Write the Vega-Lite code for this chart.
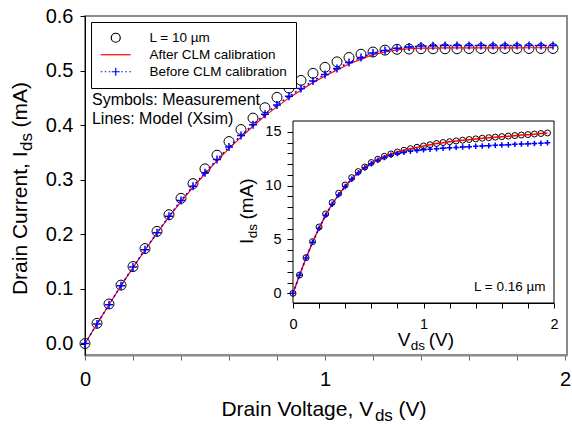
{
 "$schema": "https://vega.github.io/schema/vega-lite/v6.json",
 "width": 482, "height": 339,
 "autosize": "none",
 "padding": {"left": 85, "top": 16, "right": 5, "bottom": 70},
 "config": {
   "view": {"stroke": "#8c8c8c", "strokeWidth": 2},
   "font": "Liberation Sans",
   "axis": {"grid": false, "labelFont": "Liberation Sans", "labelColor": "black", "tickColor": "black", "domainColor": "black", "labelFlush": false, "labelOverlap": false}
 },
 "datasets": {
  "main": [
   {"s":"L = 10 µm","v":0,"i":0},{"s":"L = 10 µm","v":0.05,"i":0.037},{"s":"L = 10 µm","v":0.1,"i":0.0725},{"s":"L = 10 µm","v":0.15,"i":0.107},{"s":"L = 10 µm","v":0.2,"i":0.141},{"s":"L = 10 µm","v":0.25,"i":0.174},{"s":"L = 10 µm","v":0.3,"i":0.2055},{"s":"L = 10 µm","v":0.35,"i":0.236},{"s":"L = 10 µm","v":0.4,"i":0.266},{"s":"L = 10 µm","v":0.45,"i":0.293},
   {"s":"L = 10 µm","v":0.5,"i":0.32},{"s":"L = 10 µm","v":0.55,"i":0.345},{"s":"L = 10 µm","v":0.6,"i":0.37},{"s":"L = 10 µm","v":0.65,"i":0.392},{"s":"L = 10 µm","v":0.7,"i":0.413},{"s":"L = 10 µm","v":0.75,"i":0.432},{"s":"L = 10 µm","v":0.8,"i":0.451},{"s":"L = 10 µm","v":0.85,"i":0.468},{"s":"L = 10 µm","v":0.9,"i":0.482},{"s":"L = 10 µm","v":0.95,"i":0.495},
   {"s":"L = 10 µm","v":1,"i":0.506},{"s":"L = 10 µm","v":1.05,"i":0.516},{"s":"L = 10 µm","v":1.1,"i":0.524},{"s":"L = 10 µm","v":1.15,"i":0.53},{"s":"L = 10 µm","v":1.2,"i":0.534},{"s":"L = 10 µm","v":1.25,"i":0.5375},{"s":"L = 10 µm","v":1.3,"i":0.539},{"s":"L = 10 µm","v":1.35,"i":0.5395},{"s":"L = 10 µm","v":1.4,"i":0.54},{"s":"L = 10 µm","v":1.45,"i":0.54},
   {"s":"L = 10 µm","v":1.5,"i":0.54},{"s":"L = 10 µm","v":1.55,"i":0.54},{"s":"L = 10 µm","v":1.6,"i":0.5405},{"s":"L = 10 µm","v":1.65,"i":0.5405},{"s":"L = 10 µm","v":1.7,"i":0.5405},{"s":"L = 10 µm","v":1.75,"i":0.5405},{"s":"L = 10 µm","v":1.8,"i":0.5405},{"s":"L = 10 µm","v":1.85,"i":0.5405},{"s":"L = 10 µm","v":1.9,"i":0.5405},{"s":"L = 10 µm","v":1.95,"i":0.5405},
   {"s":"After CLM calibration","v":0,"i":0},{"s":"After CLM calibration","v":0.05,"i":0.036},{"s":"After CLM calibration","v":0.1,"i":0.071},{"s":"After CLM calibration","v":0.15,"i":0.106},{"s":"After CLM calibration","v":0.2,"i":0.139},{"s":"After CLM calibration","v":0.25,"i":0.171},{"s":"After CLM calibration","v":0.3,"i":0.202},{"s":"After CLM calibration","v":0.35,"i":0.232},{"s":"After CLM calibration","v":0.4,"i":0.26},{"s":"After CLM calibration","v":0.45,"i":0.286},
   {"s":"After CLM calibration","v":0.5,"i":0.311},{"s":"After CLM calibration","v":0.55,"i":0.335},{"s":"After CLM calibration","v":0.6,"i":0.357},{"s":"After CLM calibration","v":0.65,"i":0.378},{"s":"After CLM calibration","v":0.7,"i":0.398},{"s":"After CLM calibration","v":0.75,"i":0.417},{"s":"After CLM calibration","v":0.8,"i":0.434},{"s":"After CLM calibration","v":0.85,"i":0.45},{"s":"After CLM calibration","v":0.9,"i":0.464},{"s":"After CLM calibration","v":0.95,"i":0.478},
   {"s":"After CLM calibration","v":1,"i":0.49},{"s":"After CLM calibration","v":1.05,"i":0.501},{"s":"After CLM calibration","v":1.1,"i":0.512},{"s":"After CLM calibration","v":1.15,"i":0.521},{"s":"After CLM calibration","v":1.2,"i":0.529},{"s":"After CLM calibration","v":1.25,"i":0.534},{"s":"After CLM calibration","v":1.3,"i":0.538},{"s":"After CLM calibration","v":1.35,"i":0.54},{"s":"After CLM calibration","v":1.4,"i":0.541},{"s":"After CLM calibration","v":1.45,"i":0.5413},
   {"s":"After CLM calibration","v":1.5,"i":0.5415},{"s":"After CLM calibration","v":1.55,"i":0.5415},{"s":"After CLM calibration","v":1.6,"i":0.5415},{"s":"After CLM calibration","v":1.65,"i":0.5416},{"s":"After CLM calibration","v":1.7,"i":0.5416},{"s":"After CLM calibration","v":1.75,"i":0.5417},{"s":"After CLM calibration","v":1.8,"i":0.5417},{"s":"After CLM calibration","v":1.85,"i":0.5418},{"s":"After CLM calibration","v":1.9,"i":0.5418},{"s":"After CLM calibration","v":1.95,"i":0.5419},
   {"s":"Before CLM calibration","v":0,"i":0},{"s":"Before CLM calibration","v":0.05,"i":0.036},{"s":"Before CLM calibration","v":0.1,"i":0.071},{"s":"Before CLM calibration","v":0.15,"i":0.106},{"s":"Before CLM calibration","v":0.2,"i":0.14},{"s":"Before CLM calibration","v":0.25,"i":0.172},{"s":"Before CLM calibration","v":0.3,"i":0.203},{"s":"Before CLM calibration","v":0.35,"i":0.233},{"s":"Before CLM calibration","v":0.4,"i":0.262},{"s":"Before CLM calibration","v":0.45,"i":0.288},
   {"s":"Before CLM calibration","v":0.5,"i":0.313},{"s":"Before CLM calibration","v":0.55,"i":0.337},{"s":"Before CLM calibration","v":0.6,"i":0.36},{"s":"Before CLM calibration","v":0.65,"i":0.381},{"s":"Before CLM calibration","v":0.7,"i":0.401},{"s":"Before CLM calibration","v":0.75,"i":0.42},{"s":"Before CLM calibration","v":0.8,"i":0.437},{"s":"Before CLM calibration","v":0.85,"i":0.453},{"s":"Before CLM calibration","v":0.9,"i":0.467},{"s":"Before CLM calibration","v":0.95,"i":0.481},
   {"s":"Before CLM calibration","v":1,"i":0.493},{"s":"Before CLM calibration","v":1.05,"i":0.504},{"s":"Before CLM calibration","v":1.1,"i":0.515},{"s":"Before CLM calibration","v":1.15,"i":0.524},{"s":"Before CLM calibration","v":1.2,"i":0.532},{"s":"Before CLM calibration","v":1.25,"i":0.537},{"s":"Before CLM calibration","v":1.3,"i":0.541},{"s":"Before CLM calibration","v":1.35,"i":0.543},{"s":"Before CLM calibration","v":1.4,"i":0.545},{"s":"Before CLM calibration","v":1.45,"i":0.5455},
   {"s":"Before CLM calibration","v":1.5,"i":0.546},{"s":"Before CLM calibration","v":1.55,"i":0.546},{"s":"Before CLM calibration","v":1.6,"i":0.546},{"s":"Before CLM calibration","v":1.65,"i":0.546},{"s":"Before CLM calibration","v":1.7,"i":0.546},{"s":"Before CLM calibration","v":1.75,"i":0.546},{"s":"Before CLM calibration","v":1.8,"i":0.546},{"s":"Before CLM calibration","v":1.85,"i":0.546},{"s":"Before CLM calibration","v":1.9,"i":0.546},{"s":"Before CLM calibration","v":1.95,"i":0.546}
  ],
  "inset": [
   {"s":"L = 0.16 µm","v":0,"i":0},{"s":"L = 0.16 µm","v":0.05,"i":1.7},{"s":"L = 0.16 µm","v":0.1,"i":3.31},{"s":"L = 0.16 µm","v":0.15,"i":4.8},{"s":"L = 0.16 µm","v":0.2,"i":6.16},{"s":"L = 0.16 µm","v":0.25,"i":7.37},{"s":"L = 0.16 µm","v":0.3,"i":8.42},{"s":"L = 0.16 µm","v":0.35,"i":9.29},{"s":"L = 0.16 µm","v":0.4,"i":10.06},{"s":"L = 0.16 µm","v":0.45,"i":10.74},
   {"s":"L = 0.16 µm","v":0.5,"i":11.3},{"s":"L = 0.16 µm","v":0.55,"i":11.73},{"s":"L = 0.16 µm","v":0.6,"i":12.14},{"s":"L = 0.16 µm","v":0.65,"i":12.45},{"s":"L = 0.16 µm","v":0.7,"i":12.72},{"s":"L = 0.16 µm","v":0.75,"i":12.94},{"s":"L = 0.16 µm","v":0.8,"i":13.12},{"s":"L = 0.16 µm","v":0.85,"i":13.28},{"s":"L = 0.16 µm","v":0.9,"i":13.43},{"s":"L = 0.16 µm","v":0.95,"i":13.56},
   {"s":"L = 0.16 µm","v":1,"i":13.68},{"s":"L = 0.16 µm","v":1.05,"i":13.8},{"s":"L = 0.16 µm","v":1.1,"i":13.91},{"s":"L = 0.16 µm","v":1.15,"i":14},{"s":"L = 0.16 µm","v":1.2,"i":14.08},{"s":"L = 0.16 µm","v":1.25,"i":14.15},{"s":"L = 0.16 µm","v":1.3,"i":14.22},{"s":"L = 0.16 µm","v":1.35,"i":14.28},{"s":"L = 0.16 µm","v":1.4,"i":14.34},{"s":"L = 0.16 µm","v":1.45,"i":14.4},
   {"s":"L = 0.16 µm","v":1.5,"i":14.45},{"s":"L = 0.16 µm","v":1.55,"i":14.5},{"s":"L = 0.16 µm","v":1.6,"i":14.55},{"s":"L = 0.16 µm","v":1.65,"i":14.6},{"s":"L = 0.16 µm","v":1.7,"i":14.65},{"s":"L = 0.16 µm","v":1.75,"i":14.7},{"s":"L = 0.16 µm","v":1.8,"i":14.74},{"s":"L = 0.16 µm","v":1.85,"i":14.79},{"s":"L = 0.16 µm","v":1.9,"i":14.84},{"s":"L = 0.16 µm","v":1.95,"i":14.89},
   {"s":"After CLM calibration","v":0,"i":0},{"s":"After CLM calibration","v":0.05,"i":1.68},{"s":"After CLM calibration","v":0.1,"i":3.27},{"s":"After CLM calibration","v":0.15,"i":4.74},{"s":"After CLM calibration","v":0.2,"i":6.06},{"s":"After CLM calibration","v":0.25,"i":7.25},{"s":"After CLM calibration","v":0.3,"i":8.28},{"s":"After CLM calibration","v":0.35,"i":9.16},{"s":"After CLM calibration","v":0.4,"i":9.94},{"s":"After CLM calibration","v":0.45,"i":10.64},
   {"s":"After CLM calibration","v":0.5,"i":11.22},{"s":"After CLM calibration","v":0.55,"i":11.7},{"s":"After CLM calibration","v":0.6,"i":12.1},{"s":"After CLM calibration","v":0.65,"i":12.43},{"s":"After CLM calibration","v":0.7,"i":12.7},{"s":"After CLM calibration","v":0.75,"i":12.93},{"s":"After CLM calibration","v":0.8,"i":13.12},{"s":"After CLM calibration","v":0.85,"i":13.28},{"s":"After CLM calibration","v":0.9,"i":13.42},{"s":"After CLM calibration","v":0.95,"i":13.55},
   {"s":"After CLM calibration","v":1,"i":13.67},{"s":"After CLM calibration","v":1.05,"i":13.79},{"s":"After CLM calibration","v":1.1,"i":13.9},{"s":"After CLM calibration","v":1.15,"i":13.99},{"s":"After CLM calibration","v":1.2,"i":14.07},{"s":"After CLM calibration","v":1.25,"i":14.14},{"s":"After CLM calibration","v":1.3,"i":14.21},{"s":"After CLM calibration","v":1.35,"i":14.27},{"s":"After CLM calibration","v":1.4,"i":14.33},{"s":"After CLM calibration","v":1.45,"i":14.39},
   {"s":"After CLM calibration","v":1.5,"i":14.44},{"s":"After CLM calibration","v":1.55,"i":14.49},{"s":"After CLM calibration","v":1.6,"i":14.54},{"s":"After CLM calibration","v":1.65,"i":14.59},{"s":"After CLM calibration","v":1.7,"i":14.64},{"s":"After CLM calibration","v":1.75,"i":14.69},{"s":"After CLM calibration","v":1.8,"i":14.73},{"s":"After CLM calibration","v":1.85,"i":14.78},{"s":"After CLM calibration","v":1.9,"i":14.83},{"s":"After CLM calibration","v":1.95,"i":14.88},
   {"s":"Before CLM calibration","v":0,"i":0},{"s":"Before CLM calibration","v":0.05,"i":1.68},{"s":"Before CLM calibration","v":0.1,"i":3.27},{"s":"Before CLM calibration","v":0.15,"i":4.74},{"s":"Before CLM calibration","v":0.2,"i":6.05},{"s":"Before CLM calibration","v":0.25,"i":7.24},{"s":"Before CLM calibration","v":0.3,"i":8.27},{"s":"Before CLM calibration","v":0.35,"i":9.14},{"s":"Before CLM calibration","v":0.4,"i":9.91},{"s":"Before CLM calibration","v":0.45,"i":10.6},
   {"s":"Before CLM calibration","v":0.5,"i":11.18},{"s":"Before CLM calibration","v":0.55,"i":11.65},{"s":"Before CLM calibration","v":0.6,"i":12.04},{"s":"Before CLM calibration","v":0.65,"i":12.36},{"s":"Before CLM calibration","v":0.7,"i":12.6},{"s":"Before CLM calibration","v":0.75,"i":12.81},{"s":"Before CLM calibration","v":0.8,"i":12.98},{"s":"Before CLM calibration","v":0.85,"i":13.09},{"s":"Before CLM calibration","v":0.9,"i":13.18},{"s":"Before CLM calibration","v":0.95,"i":13.26},
   {"s":"Before CLM calibration","v":1,"i":13.33},{"s":"Before CLM calibration","v":1.05,"i":13.38},{"s":"Before CLM calibration","v":1.1,"i":13.43},{"s":"Before CLM calibration","v":1.15,"i":13.47},{"s":"Before CLM calibration","v":1.2,"i":13.51},{"s":"Before CLM calibration","v":1.25,"i":13.55},{"s":"Before CLM calibration","v":1.3,"i":13.58},{"s":"Before CLM calibration","v":1.35,"i":13.62},{"s":"Before CLM calibration","v":1.4,"i":13.65},{"s":"Before CLM calibration","v":1.45,"i":13.68},
   {"s":"Before CLM calibration","v":1.5,"i":13.71},{"s":"Before CLM calibration","v":1.55,"i":13.74},{"s":"Before CLM calibration","v":1.6,"i":13.77},{"s":"Before CLM calibration","v":1.65,"i":13.8},{"s":"Before CLM calibration","v":1.7,"i":13.83},{"s":"Before CLM calibration","v":1.75,"i":13.86},{"s":"Before CLM calibration","v":1.8,"i":13.89},{"s":"Before CLM calibration","v":1.85,"i":13.91},{"s":"Before CLM calibration","v":1.9,"i":13.94},{"s":"Before CLM calibration","v":1.95,"i":13.97}
  ]
 },
 "resolve": {"scale": {"x": "independent", "y": "independent"}},
 "layer": [
  {
   "layer": [
    {
     "data": {"name": "main"},
     "transform": [{"filter": "datum.s == 'L = 10 µm'"}],
     "mark": {"type": "point", "filled": false, "size": 123, "strokeWidth": 1, "opacity": 1},
     "encoding": {
      "x": {"field": "v", "type": "quantitative",
            "scale": {"domain": [0, 2.0083], "nice": false, "zero": false},
            "axis": {"orient": "bottom", "title": null, "values": [0,0.2,0.4,0.6,0.8,1,1.2,1.4,1.6,1.8,2],
                     "labelExpr": "abs(datum.value - round(datum.value)) < 0.001 ? format(datum.value, 'd') : ''",
                     "labelOverlap": false, "labelFontSize": 20, "labelPadding": 9, "tickSize": 5, "tickColor": "#666666", "domainColor": "#8c8c8c", "domainWidth": 2}},
      "y": {"field": "i", "type": "quantitative",
            "scale": {"domain": [-0.021, 0.6], "nice": false, "zero": false},
            "axis": {"orient": "left", "title": null, "values": [0,0.1,0.2,0.3,0.4,0.5,0.6], "format": ".1f",
                     "labelOverlap": false, "labelFontSize": 20, "labelPadding": 7, "tickSize": 5, "domainColor": "black"}},
      "shape": {"field": "s", "type": "nominal",
                "scale": {"domain": ["L = 10 µm", "After CLM calibration", "Before CLM calibration"],
                          "range": ["M-0.9,0A0.9,0.9,0,1,0,0.9,0A0.9,0.9,0,1,0,-0.9,0Z", "M-3,0H3", "M-3,0h0.3M-2.2,0h0.3M-1.4,0h0.3M1.1,0h0.3M1.9,0h0.3M2.7,0h0.3M-0.8,0H0.8M0,-0.8V0.8"]},
                "legend": {"title": null, "orient": "none", "legendX": 6, "legendY": 6, "direction": "vertical",
                           "padding": 9, "strokeColor": "black", "fillColor": "white", "symbolSize": 100, "symbolStrokeWidth": 1.2,
                           "symbolOffset": 9, "labelOffset": 27, "rowPadding": 2, "labelFont": "Liberation Sans", "labelFontSize": 13.5,
                           "labelColor": "black", "labelLimit": 300}},
      "stroke": {"field": "s", "type": "nominal",
                 "scale": {"domain": ["L = 10 µm", "After CLM calibration", "Before CLM calibration"], "range": ["black", "#ff0000", "#0000ff"]},
                 "legend": {"title": null, "orient": "none", "legendX": 6, "legendY": 6, "direction": "vertical",
                           "padding": 9, "strokeColor": "black", "fillColor": "white", "symbolSize": 100, "symbolStrokeWidth": 1.2,
                           "symbolOffset": 9, "labelOffset": 27, "rowPadding": 2, "labelFont": "Liberation Sans", "labelFontSize": 13.5,
                           "labelColor": "black", "labelLimit": 300}}
     }
    },
    {
     "data": {"name": "main"},
     "transform": [{"filter": "datum.s == 'After CLM calibration'"}],
     "mark": {"type": "line", "stroke": "#ff0000", "strokeWidth": 1.2},
     "encoding": {"x": {"field": "v", "type": "quantitative", "title": null}, "y": {"field": "i", "type": "quantitative", "title": null}}
    },
    {
     "data": {"name": "main"},
     "transform": [{"filter": "datum.s == 'Before CLM calibration'"}],
     "mark": {"type": "line", "stroke": "#0000ff", "strokeWidth": 1.5, "strokeDash": [2, 3]},
     "encoding": {"x": {"field": "v", "type": "quantitative", "title": null}, "y": {"field": "i", "type": "quantitative", "title": null}}
    },
    {
     "data": {"name": "main"},
     "transform": [{"filter": "datum.s == 'Before CLM calibration'"}],
     "mark": {"type": "point", "shape": "M-1,0H1M0,-1V1", "size": 64, "filled": false, "stroke": "#0000ff", "strokeWidth": 1.5, "opacity": 1},
     "encoding": {"x": {"field": "v", "type": "quantitative", "title": null}, "y": {"field": "i", "type": "quantitative", "title": null}}
    },
    {
     "data": {"values": [{}]},
     "mark": {"type": "text", "text": "Symbols: Measurement", "align": "left", "baseline": "alphabetic", "fontSize": 16, "font": "Liberation Sans", "fill": "black"},
     "encoding": {"x": {"datum": 0.029, "type": "quantitative"}, "y": {"datum": 0.4369, "type": "quantitative"}}
    },
    {
     "data": {"values": [{}]},
     "mark": {"type": "text", "text": "Lines: Model (Xsim)", "align": "left", "baseline": "alphabetic", "fontSize": 16, "font": "Liberation Sans", "fill": "black"},
     "encoding": {"x": {"datum": 0.029, "type": "quantitative"}, "y": {"datum": 0.402, "type": "quantitative"}}
    },
    {
     "data": {"values": [{}]},
     "mark": {"type": "text", "text": "Drain Voltage, V", "align": "left", "baseline": "alphabetic", "fontSize": 21, "font": "Liberation Sans", "fill": "black"},
     "encoding": {"x": {"datum": 0.5683, "type": "quantitative"}, "y": {"datum": -0.1325, "type": "quantitative"}}
    },
    {
     "data": {"values": [{}]},
     "mark": {"type": "text", "text": "ds", "align": "left", "baseline": "alphabetic", "fontSize": 17, "font": "Liberation Sans", "fill": "black", "dx": 153.5, "dy": 5.5},
     "encoding": {"x": {"datum": 0.5683, "type": "quantitative"}, "y": {"datum": -0.1325, "type": "quantitative"}}
    },
    {
     "data": {"values": [{}]},
     "mark": {"type": "text", "text": "(V)", "align": "left", "baseline": "alphabetic", "fontSize": 21, "font": "Liberation Sans", "fill": "black", "dx": 177},
     "encoding": {"x": {"datum": 0.5683, "type": "quantitative"}, "y": {"datum": -0.1325, "type": "quantitative"}}
    },
    {
     "data": {"values": [{}]},
     "mark": {"type": "text", "text": "Drain Current, I", "angle": 270, "align": "left", "baseline": "alphabetic", "fontSize": 21, "font": "Liberation Sans", "fill": "black"},
     "encoding": {"x": {"datum": -0.2396, "type": "quantitative"}, "y": {"datum": 0.0888, "type": "quantitative"}}
    },
    {
     "data": {"values": [{}]},
     "mark": {"type": "text", "text": "ds", "angle": 270, "align": "left", "baseline": "alphabetic", "fontSize": 17, "font": "Liberation Sans", "fill": "black", "dx": 144, "dy": 5},
     "encoding": {"x": {"datum": -0.2396, "type": "quantitative"}, "y": {"datum": 0.0888, "type": "quantitative"}}
    },
    {
     "data": {"values": [{}]},
     "mark": {"type": "text", "text": "(mA)", "angle": 270, "align": "left", "baseline": "alphabetic", "fontSize": 21, "font": "Liberation Sans", "fill": "black", "dx": 167.5},
     "encoding": {"x": {"datum": -0.2396, "type": "quantitative"}, "y": {"datum": 0.0888, "type": "quantitative"}}
    }
   ]
  },
  {
   "layer": [
    {
     "data": {"values": [{}]},
     "mark": {"type": "rect", "fill": "white", "stroke": "black", "strokeWidth": 1},
     "encoding": {"x": {"datum": 0, "type": "quantitative"}, "x2": {"datum": 2}, "y": {"datum": -0.9, "type": "quantitative"}, "y2": {"datum": 16}}
    },
    {
     "data": {"name": "inset"},
     "transform": [{"filter": "datum.s == 'L = 0.16 µm'"}],
     "mark": {"type": "point", "shape": "circle", "filled": false, "size": 36, "stroke": "black", "strokeWidth": 1, "opacity": 1},
     "encoding": {
      "x": {"field": "v", "type": "quantitative",
            "scale": {"domain": [0, 2], "range": [208, 469], "nice": false, "zero": false},
            "axis": {"orient": "bottom", "offset": -52, "title": null, "values": [0,0.2,0.4,0.6,0.8,1,1.2,1.4,1.6,1.8,2],
                     "labelExpr": "abs(datum.value - round(datum.value)) < 0.001 ? format(datum.value, 'd') : ''",
                     "labelOverlap": false, "labelFontSize": 14.5, "labelPadding": 9, "tickSize": 5}},
      "y": {"field": "i", "type": "quantitative",
            "scale": {"domain": [-0.9, 16], "range": [287, 105], "nice": false, "zero": false},
            "axis": {"orient": "left", "offset": -208, "title": null, "values": [0, 5, 10, 15], "format": "d",
                     "labelOverlap": false, "labelFontSize": 14.5, "labelPadding": 6, "tickSize": 6}}
     }
    },
    {
     "data": {"name": "inset"},
     "transform": [{"filter": "datum.s == 'After CLM calibration'"}],
     "mark": {"type": "line", "stroke": "#ff0000", "strokeWidth": 1.5},
     "encoding": {"x": {"field": "v", "type": "quantitative", "title": null}, "y": {"field": "i", "type": "quantitative", "title": null}}
    },
    {
     "data": {"name": "inset"},
     "transform": [{"filter": "datum.s == 'Before CLM calibration'"}],
     "mark": {"type": "line", "stroke": "#0000ff", "strokeWidth": 1.5, "strokeDash": [2, 3]},
     "encoding": {"x": {"field": "v", "type": "quantitative", "title": null}, "y": {"field": "i", "type": "quantitative", "title": null}}
    },
    {
     "data": {"name": "inset"},
     "transform": [{"filter": "datum.s == 'Before CLM calibration'"}],
     "mark": {"type": "point", "shape": "M-1,0H1M0,-1V1", "size": 30, "filled": false, "stroke": "#0000ff", "strokeWidth": 1.5, "opacity": 1},
     "encoding": {"x": {"field": "v", "type": "quantitative", "title": null}, "y": {"field": "i", "type": "quantitative", "title": null}}
    },
    {
     "data": {"values": [{}]},
     "mark": {"type": "text", "text": "L = 0.16 µm", "align": "right", "baseline": "alphabetic", "fontSize": 13.5, "font": "Liberation Sans", "fill": "black"},
     "encoding": {"x": {"datum": 1.935, "type": "quantitative"}, "y": {"datum": 0.2, "type": "quantitative"}}
    },
    {
     "data": {"values": [{}]},
     "mark": {"type": "text", "text": "V", "align": "left", "baseline": "alphabetic", "fontSize": 19, "font": "Liberation Sans", "fill": "black"},
     "encoding": {"x": {"datum": 0.8023, "type": "quantitative"}, "y": {"datum": -4.892, "type": "quantitative"}}
    },
    {
     "data": {"values": [{}]},
     "mark": {"type": "text", "text": "ds", "align": "left", "baseline": "alphabetic", "fontSize": 13.5, "font": "Liberation Sans", "fill": "black", "dx": 13, "dy": 4},
     "encoding": {"x": {"datum": 0.8023, "type": "quantitative"}, "y": {"datum": -4.892, "type": "quantitative"}}
    },
    {
     "data": {"values": [{}]},
     "mark": {"type": "text", "text": "(V)", "align": "left", "baseline": "alphabetic", "fontSize": 19, "font": "Liberation Sans", "fill": "black", "dx": 31},
     "encoding": {"x": {"datum": 0.8023, "type": "quantitative"}, "y": {"datum": -4.892, "type": "quantitative"}}
    },
    {
     "data": {"values": [{}]},
     "mark": {"type": "text", "text": "I", "angle": 270, "align": "left", "baseline": "alphabetic", "fontSize": 19, "font": "Liberation Sans", "fill": "black"},
     "encoding": {"x": {"datum": -0.3065, "type": "quantitative"}, "y": {"datum": 4.576, "type": "quantitative"}}
    },
    {
     "data": {"values": [{}]},
     "mark": {"type": "text", "text": "ds", "angle": 270, "align": "left", "baseline": "alphabetic", "fontSize": 13.5, "font": "Liberation Sans", "fill": "black", "dx": 5.8, "dy": 4},
     "encoding": {"x": {"datum": -0.3065, "type": "quantitative"}, "y": {"datum": 4.576, "type": "quantitative"}}
    },
    {
     "data": {"values": [{}]},
     "mark": {"type": "text", "text": "(mA)", "angle": 270, "align": "left", "baseline": "alphabetic", "fontSize": 19, "font": "Liberation Sans", "fill": "black", "dx": 24.5},
     "encoding": {"x": {"datum": -0.3065, "type": "quantitative"}, "y": {"datum": 4.576, "type": "quantitative"}}
    }
   ]
  },
  {
   "data": {"values": [{}]},
   "mark": {"type": "point", "opacity": 0},
   "encoding": {
    "y": {"datum": 0, "type": "quantitative",
          "scale": {"domain": [-0.9, 16], "range": [287, 105], "nice": false, "zero": false},
          "axis": {"orient": "left", "offset": -208, "title": null, "values": [0,1,2,3,4,6,7,8,9,11,12,13,14],
                   "labels": false, "domain": false, "tickSize": 6}}
   }
  }
 ]
}
